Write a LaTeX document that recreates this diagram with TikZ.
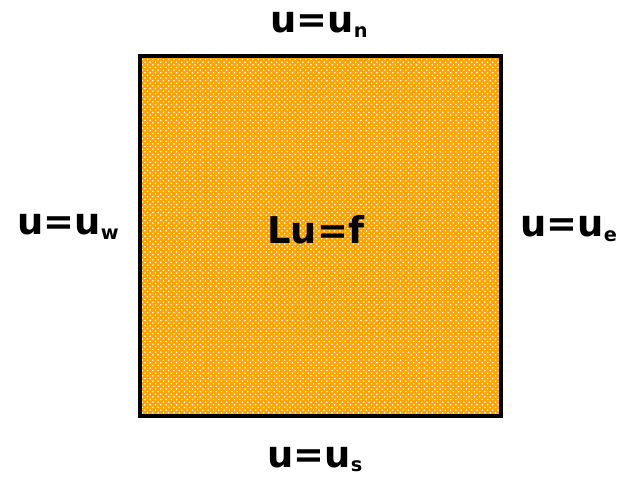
\documentclass[tikz,border=0pt]{standalone}
\usepackage{fontspec}
\setmainfont{DejaVu Sans}
\usetikzlibrary{patterns}
\definecolor{boxorange}{RGB}{255,163,0}
\begin{document}
\begin{tikzpicture}[x=.02cm,y=.02cm]
			\def\xl{140}
			\def\xr{501}
			\def\yb{60}
			\def\yt{420}
			\def\sub#1{\raisebox{-2.3pt}{\fontsize{11}{12}\selectfont #1}}
			\tikzset{bc/.style={inner sep=0pt,anchor=base west,font=\bfseries\fontsize{21}{24}\selectfont}}
			\useasboundingbox (0,0) rectangle (617,476);
			\fill[boxorange] (\xl,\yb) rectangle (\xr,\yt);
			\fill[pattern=crosshatch dots,pattern color=white] (\xl,\yb) rectangle (\xr,\yt);
			\draw[line width=2.2pt] (\xl,\yb) rectangle (\xr,\yt);
			\node[bc] (north) at (270,443) {u=u\sub{n}};
			\node[bc] (south) at (267,9) {u=u\sub{s}};
			\node[bc] (west) at (17,241) {u=u\sub{w}};
			\node[bc] (east) at (520,239) {u=u\sub{e}};
			\node[bc] (eq) at (267,232) {Lu=f};
\end{tikzpicture}
\end{document}
